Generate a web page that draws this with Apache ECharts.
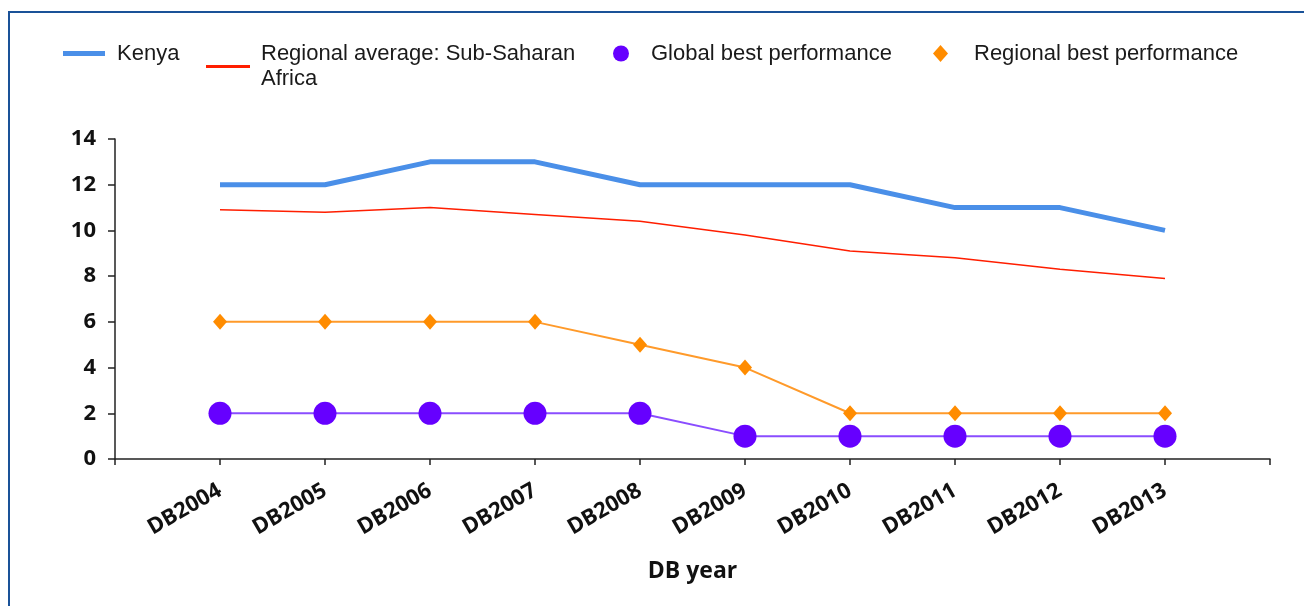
<!DOCTYPE html>
<html>
<head>
<meta charset="utf-8">
<script src="https://cdn.jsdelivr.net/npm/echarts@6/dist/echarts.min.js"></script>
<style>
  html, body { margin: 0; padding: 0; background: #fff; }
  #frame { position: absolute; left: 8px; top: 11px; width: 1400px; height: 700px; border: 2px solid #1a5298; }
  #main { position: absolute; left: 0; top: 0; width: 1304px; height: 606px; }
</style>
</head>
<body>
<div id="frame"></div>
<div id="main"></div>
<script>
// values
var years = ['DB2004', 'DB2005', 'DB2006', 'DB2007', 'DB2008', 'DB2009', 'DB2010', 'DB2011', 'DB2012', 'DB2013'];
var kenya = [12, 12, 13, 13, 12, 12, 12, 11, 11, 10];
var regionalAvg = [10.9, 10.8, 11.0, 10.7, 10.4, 9.8, 9.1, 8.8, 8.3, 7.9];
var globalBest = [2, 2, 2, 2, 2, 1, 1, 1, 1, 1];
var regionalBest = [6, 6, 6, 6, 5, 4, 2, 2, 2, 2];

// empty slot on each side so the axis runs past first/last year
function pad(arr) { return [null].concat(arr, [null]); }
var xCats = [''].concat(years, ['']);

var legendText = { fontFamily: 'Liberation Sans, Arial', fontSize: 22, color: '#1a1a1a', lineHeight: 25 };
var boldFont = 'Open Sans';

var myChart = echarts.init(document.getElementById('main'));
var opt = {
  animation: false,
  backgroundColor: 'transparent',
  legend: [
    { data: [{ name: 'Kenya', icon: 'rect' }], left: 63, top: 41, padding: 0, itemWidth: 42, itemHeight: 5,
      textStyle: Object.assign({}, legendText, { padding: [0, 0, 0, 7] }) },
    { data: [{ name: 'Regional average: Sub-Saharan\nAfrica', icon: 'rect' }], left: 206, top: 29, padding: 0, itemWidth: 44, itemHeight: 3,
      textStyle: Object.assign({}, legendText, { padding: [25, 0, 0, 6] }) },
    { data: [{ name: 'Global best performance', icon: 'circle' }], left: 613, top: 41, padding: 0, itemWidth: 16, itemHeight: 16,
      textStyle: Object.assign({}, legendText, { padding: [0, 0, 0, 17] }) },
    { data: [{ name: 'Regional best performance', icon: 'diamond' }], left: 933, top: 41, padding: 0, itemWidth: 15, itemHeight: 17,
      textStyle: Object.assign({}, legendText, { padding: [0, 0, 0, 21] }) }
  ],
  grid: { left: 115, right: 34, top: 139, bottom: 147 },
  xAxis: {
    type: 'category',
    data: xCats,
    boundaryGap: false,
    name: 'DB year',
    nameLocation: 'middle',
    nameGap: 101,
    nameTextStyle: { fontFamily: boldFont, fontWeight: 'bold', fontSize: 23, color: '#111' },
    axisLine: { lineStyle: { color: '#222', width: 1.5 } },
    axisTick: { interval: 0, length: 6, lineStyle: { color: '#222', width: 1.5 } },
    axisLabel: { interval: 0, rotate: 30, margin: 30, fontFamily: boldFont, fontWeight: 'bold', fontSize: 22, color: '#111' },
    splitLine: { show: false }
  },
  yAxis: {
    type: 'value',
    min: 0,
    max: 14,
    interval: 2,
    axisLine: { show: true, lineStyle: { color: '#222', width: 1.5 } },
    axisTick: { show: true, length: 7, lineStyle: { color: '#222', width: 1.5 } },
    axisLabel: { margin: 19, fontFamily: boldFont, fontWeight: 'bold', fontSize: 22, color: '#111' },
    splitLine: { show: false }
  },
  series: [
    {
      name: 'Kenya', type: 'line', data: pad(kenya), showSymbol: false, symbol: 'none',
      lineStyle: { color: '#4a8fe8', width: 5 }, itemStyle: { color: '#4a8fe8' }, z: 4
    },
    {
      name: 'Regional average: Sub-Saharan\nAfrica', type: 'line', data: pad(regionalAvg), symbol: 'none',
      lineStyle: { color: '#ff1e00', width: 1.5 }, itemStyle: { color: '#ff1e00' }, z: 3
    },
    {
      name: 'Global best performance', type: 'line', data: pad(globalBest), symbol: 'circle', symbolSize: 23,
      lineStyle: { color: '#8a4dff', width: 2 }, itemStyle: { color: '#6600ff' }, z: 2
    },
    {
      name: 'Regional best performance', type: 'line', data: pad(regionalBest), symbol: 'diamond', symbolSize: [14, 16],
      lineStyle: { color: '#ff9a2a', width: 2 }, itemStyle: { color: '#ff8c00' }, z: 2
    }
  ]
};
myChart.setOption(opt);
</script>
</body>
</html>
